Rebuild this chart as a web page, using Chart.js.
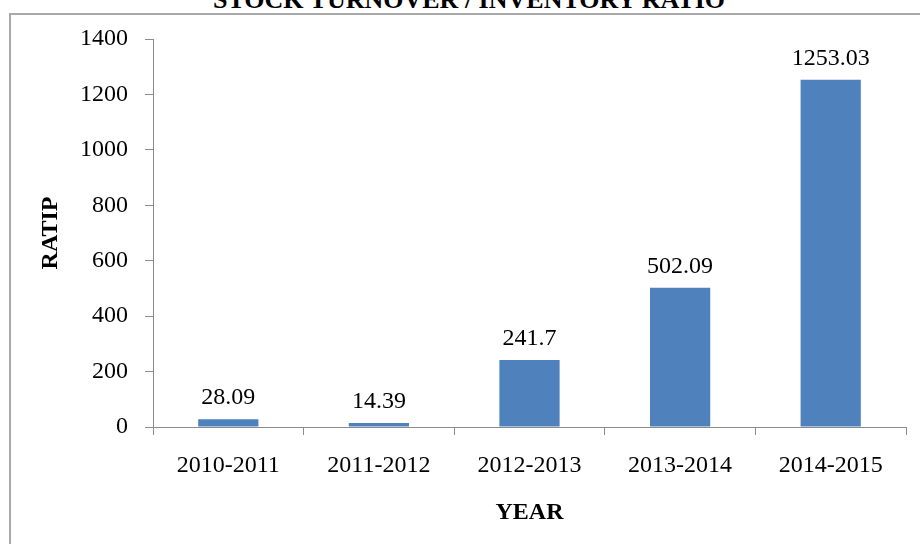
<!DOCTYPE html>
<html>
<head>
<meta charset="utf-8">
<script src="https://cdn.jsdelivr.net/npm/chart.js@4.4.1/dist/chart.umd.min.js"></script>
<style>
  body { margin: 0; width: 920px; height: 544px; overflow: hidden; background: #fff; position: relative; }
  #frame { position: absolute; left: 9px; top: 13px; width: 1000px; height: 700px; border: 2px solid #a9a9a9; box-sizing: border-box; }
  #title { position: absolute; left: 0; width: 938px; top: -13px; text-align: center;
           font: bold 26px "Liberation Serif", serif; line-height: 26px; color: #000; }
  #wrap { position: absolute; left: 0; top: 0; width: 920px; height: 544px; }
</style>
</head>
<body>
<div id="frame"></div>
<div id="title">STOCK TURNOVER / INVENTORY RATIO</div>
<div id="wrap"><canvas id="ratioChart"></canvas></div>
<script>
const years = ['2010-2011', '2011-2012', '2012-2013', '2013-2014', '2014-2015'];
const ratios = [28.09, 14.39, 241.7, 502.09, 1253.03];
const ratioLabels = ['28.09', '14.39', '241.7', '502.09', '1253.03'];

const serif = '"Liberation Serif", "Times New Roman", serif';

// draws the value above each bar
const valueLabels = {
    id: 'valueLabels',
    afterDatasetsDraw(chart) {
        const ctx = chart.ctx;
        const meta = chart.getDatasetMeta(0);
        ctx.save();
        ctx.font = '24px ' + serif;
        ctx.fillStyle = '#000';
        ctx.textAlign = 'center';
        ctx.textBaseline = 'alphabetic';
        meta.data.forEach((bar, i) => {
            ctx.fillText(ratioLabels[i], bar.x, bar.y - 15);
        });
        ctx.restore();
    }
};

const ctx = document.getElementById('ratioChart').getContext('2d');
new Chart(ctx, {
    type: 'bar',
    data: {
        labels: years,
        datasets: [{
            data: ratios,
            backgroundColor: '#4f81bd',
            categoryPercentage: 1,
            barPercentage: 0.4
        }]
    },
    options: {
        responsive: true,
        maintainAspectRatio: false,
        animation: false,
        layout: { padding: { top: 39, right: 14, left: 0, bottom: 0 } },
        plugins: {
            legend: { display: false },
            tooltip: { enabled: false }
        },
        scales: {
            x: {
                afterFit: scale => { scale.height = 117; },
                grid: { offset: true, drawOnChartArea: false, drawTicks: true, tickLength: 8, color: '#8c8c8c' },
                border: { color: '#8c8c8c', width: 1 },
                ticks: { color: '#000', font: { family: serif, size: 24 }, padding: 16, maxRotation: 0 },
                title: { display: true, text: 'YEAR', color: '#000',
                         font: { family: serif, size: 24, weight: 'bold' }, padding: { top: 0, bottom: 17 } }
            },
            y: {
                min: 0,
                max: 1400,
                afterFit: scale => { scale.width = 153; },
                grid: { drawOnChartArea: false, drawTicks: true, tickLength: 8, color: '#8c8c8c' },
                border: { color: '#8c8c8c', width: 1 },
                ticks: { stepSize: 200, color: '#000', font: { family: serif, size: 24 }, padding: 17,
                         callback: v => String(v) },
                title: { display: true, text: 'RATIP', color: '#000',
                         font: { family: serif, size: 24, weight: 'bold' }, padding: { top: 36, bottom: 0 } }
            }
        }
    },
    plugins: [valueLabels]
});
</script>
</body>
</html>
